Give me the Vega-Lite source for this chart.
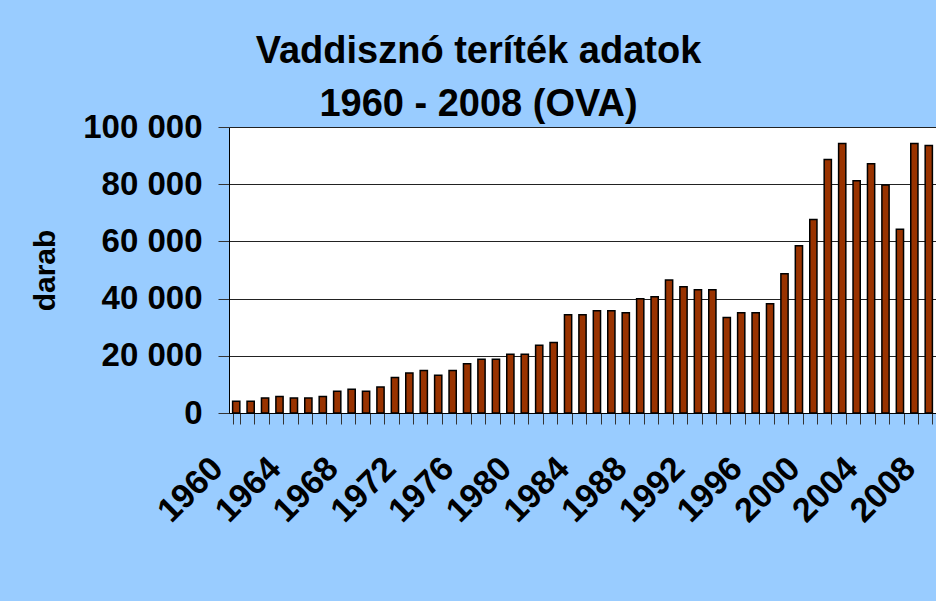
{
  "$schema": "https://vega.github.io/schema/vega-lite/v6.json",
  "width": 707,
  "height": 286,
  "autosize": {"type": "none"},
  "padding": {"left": 229, "top": 127, "right": 0, "bottom": 188},
  "background": "#99CCFF",
  "title": {
    "text": ["Vaddisznó teríték adatok", "1960 - 2008 (OVA)"],
    "font": "Liberation Sans",
    "fontSize": 38,
    "fontWeight": "bold",
    "color": "#000000",
    "lineHeight": 53,
    "anchor": "middle",
    "dx": -104,
    "offset": -13
  },
  "config": {
    "view": {"stroke": null, "fill": "#FFFFFF"},
    "axis": {"labelFont": "Liberation Sans", "titleFont": "Liberation Sans", "labelColor": "#000000", "titleColor": "#000000"}
  },
  "data": {
    "values": [
      {"year": 1960, "darab": 4100},
      {"year": 1961, "darab": 4100},
      {"year": 1962, "darab": 5260},
      {"year": 1963, "darab": 5750},
      {"year": 1964, "darab": 5260},
      {"year": 1965, "darab": 5260},
      {"year": 1966, "darab": 5750},
      {"year": 1967, "darab": 7600},
      {"year": 1968, "darab": 8300},
      {"year": 1969, "darab": 7600},
      {"year": 1970, "darab": 9100},
      {"year": 1971, "darab": 12400},
      {"year": 1972, "darab": 14000},
      {"year": 1973, "darab": 14850},
      {"year": 1974, "darab": 13200},
      {"year": 1975, "darab": 14850},
      {"year": 1976, "darab": 17200},
      {"year": 1977, "darab": 18800},
      {"year": 1978, "darab": 18800},
      {"year": 1979, "darab": 20550},
      {"year": 1980, "darab": 20550},
      {"year": 1981, "darab": 23700},
      {"year": 1982, "darab": 24650},
      {"year": 1983, "darab": 34340},
      {"year": 1984, "darab": 34340},
      {"year": 1985, "darab": 35740},
      {"year": 1986, "darab": 35740},
      {"year": 1987, "darab": 35040},
      {"year": 1988, "darab": 39950},
      {"year": 1989, "darab": 40650},
      {"year": 1990, "darab": 46500},
      {"year": 1991, "darab": 44150},
      {"year": 1992, "darab": 43100},
      {"year": 1993, "darab": 43100},
      {"year": 1994, "darab": 33400},
      {"year": 1995, "darab": 35040},
      {"year": 1996, "darab": 35040},
      {"year": 1997, "darab": 38200},
      {"year": 1998, "darab": 48700},
      {"year": 1999, "darab": 58500},
      {"year": 2000, "darab": 67630},
      {"year": 2001, "darab": 88650},
      {"year": 2002, "darab": 94260},
      {"year": 2003, "darab": 81190},
      {"year": 2004, "darab": 87150},
      {"year": 2005, "darab": 79680},
      {"year": 2006, "darab": 64260},
      {"year": 2007, "darab": 94260},
      {"year": 2008, "darab": 93560}
    ]
  },
  "mark": {"type": "bar", "fill": "#993300", "stroke": "#000000", "strokeWidth": 1.5},
  "encoding": {
    "x": {
      "field": "year",
      "type": "ordinal",
      "scale": {"paddingInner": 0.5, "paddingOuter": 0.25},
      "axis": {
        "title": null,
        "tickBand": "extent",
        "labelAngle": -45,
        "labelFontSize": 34,
        "labelFontWeight": "bold",
        "labelOverlap": false,
        "labelExpr": "datum.value % 4 === 0 ? datum.label : ''",
        "labelPadding": 27,
        "labelOffset": -31,
        "tickSize": 11,
        "tickColor": "#333333",
        "domainColor": "#000000",
        "grid": false
      }
    },
    "y": {
      "field": "darab",
      "type": "quantitative",
      "scale": {"domain": [0, 100000], "nice": false},
      "axis": {
        "title": "darab",
        "titleFontSize": 30,
        "titleFontWeight": "bold",
        "titlePadding": 22,
        "values": [0, 20000, 40000, 60000, 80000, 100000],
        "labelExpr": "replace(format(datum.value, ','), ',', ' ')",
        "labelFontSize": 33,
        "labelFontWeight": "bold",
        "labelPadding": 16,
        "tickSize": 11,
        "tickColor": "#333333",
        "domainColor": "#000000",
        "grid": true,
        "gridColor": "#222222",
        "gridWidth": 1,
        "gridOpacity": 1
      }
    }
  }
}
